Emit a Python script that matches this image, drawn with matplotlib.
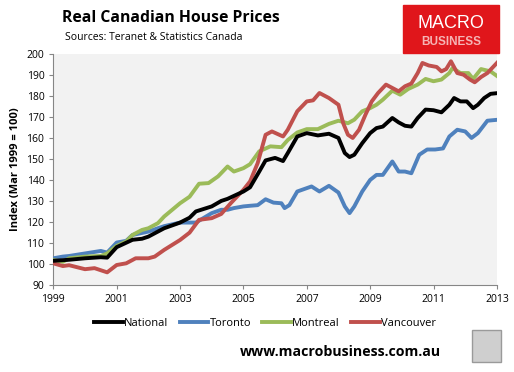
import matplotlib.pyplot as plt
from matplotlib.patches import Rectangle

# Значения (год, индекс)
national_t = [1999.0, 1999.5, 2000.0, 2000.5, 2000.7, 2001.0, 2001.5, 2001.8, 2002.0, 2002.5,
              2003.0, 2003.3, 2003.5, 2004.0, 2004.3, 2004.5, 2005.0, 2005.21, 2005.5, 2005.7,
              2006.0, 2006.25, 2006.4, 2006.7, 2007.0, 2007.35, 2007.7, 2008.0, 2008.2, 2008.35,
              2008.5, 2008.75, 2009.0, 2009.2, 2009.4, 2009.7, 2009.9, 2010.1, 2010.3, 2010.5,
              2010.75, 2011.0, 2011.25, 2011.5, 2011.65, 2011.85, 2012.05, 2012.25, 2012.4, 2012.6,
              2012.8, 2013.05]
national_v = [101.5, 102, 102.7, 103.2, 103, 108, 111.5, 112, 113, 117,
              119.7, 122, 125, 127.4, 130, 131, 134.5, 136.5, 144, 149.3,
              150.5, 149, 152.8, 160.7, 162.3, 161.2, 162, 160, 152.8, 150.9,
              152, 157.5, 162.3, 164.7, 165.4, 169.5, 167.4, 165.8, 165.4, 169.5,
              173.5, 173.2, 172.2, 175.8, 179, 177.4, 177.4, 174.2, 175.8, 179,
              181, 181.4]

toronto_t = [1999.0, 1999.3, 1999.5, 2000.0, 2000.5, 2000.7, 2001.0, 2001.3, 2001.5, 2002.0,
             2002.3, 2002.5, 2003.0, 2003.5, 2004.0, 2004.3, 2004.5, 2004.7, 2005.0, 2005.21,
             2005.45, 2005.7, 2005.95, 2006.2, 2006.3, 2006.45, 2006.7, 2007.0, 2007.15, 2007.4,
             2007.7, 2008.0, 2008.2, 2008.35, 2008.5, 2008.75, 2009.0, 2009.2, 2009.4, 2009.7,
             2009.9, 2010.1, 2010.3, 2010.55, 2010.8, 2011.05, 2011.3, 2011.5, 2011.75, 2012.0,
             2012.2, 2012.4, 2012.7, 2013.05]
toronto_v = [102.7, 103.5, 103.8, 105, 106.2, 105.4, 110.2, 111, 113.8, 115.4,
             117, 118, 119.7, 119.7, 124.2, 125.8, 125.8, 126.6, 127.4, 127.7,
             128, 130.8, 129.2, 128.9, 126.6, 128, 134.5, 136.1, 136.9, 134.5,
             137.2, 134, 127.4, 124.2, 127.4, 134.5, 140, 142.4, 142.4, 148.8,
             144, 144, 143.2, 152, 154.5, 154.5, 155, 160.7, 163.9, 163.1,
             160, 162.3, 168.2, 168.7]

montreal_t = [1999.0, 1999.3, 1999.5, 2000.0, 2000.5, 2000.7, 2001.0, 2001.3, 2001.5, 2001.8,
              2002.0, 2002.3, 2002.5, 2003.0, 2003.3, 2003.6, 2003.9, 2004.2, 2004.5, 2004.7,
              2005.0, 2005.21, 2005.5, 2005.85, 2006.2, 2006.4, 2006.7, 2007.0, 2007.35, 2007.7,
              2008.0, 2008.3, 2008.5, 2008.75, 2009.0, 2009.2, 2009.4, 2009.7, 2009.95, 2010.2,
              2010.5, 2010.75, 2011.0, 2011.25, 2011.5, 2011.6, 2011.85, 2012.1, 2012.25, 2012.5,
              2012.8, 2013.05]
montreal_v = [101.9, 101, 102.7, 103.5, 103.8, 105, 108.6, 110.7, 113.8, 116.2,
              117, 119.4, 122.6, 128.9, 132, 138.2, 138.5, 141.7, 146.4, 144,
              145.6, 147.5, 153.6, 156, 155.6, 159, 162.6, 164.2, 164.2, 166.7,
              168.2, 167, 168.7, 172.7, 174.2, 175.8, 178.2, 182.5, 180.6, 183.3,
              185.4, 188.1, 187, 187.8, 190.9, 193.3, 190.9, 190.9, 188.1, 192.8,
              191.7, 189]

vancouver_t = [1999.0, 1999.3, 1999.5, 2000.0, 2000.3, 2000.7, 2001.0, 2001.3, 2001.6, 2002.0,
               2002.2, 2002.5, 2003.0, 2003.3, 2003.6, 2004.0, 2004.3, 2004.6, 2005.0, 2005.21,
               2005.45, 2005.7, 2005.9, 2006.25, 2006.4, 2006.7, 2007.0, 2007.2, 2007.4, 2007.7,
               2008.0, 2008.15, 2008.3, 2008.45, 2008.65, 2008.85, 2009.05, 2009.25, 2009.5, 2009.7,
               2009.9, 2010.1, 2010.3, 2010.5, 2010.65, 2010.85, 2011.1, 2011.25, 2011.4, 2011.55,
               2011.75, 2011.95, 2012.15, 2012.3, 2012.5, 2012.7, 2013.05]
vancouver_v = [100.3, 99, 99.4, 97.5, 98, 96, 99.5, 100.3, 102.7, 102.7,
               103.5, 106.7, 111.4, 114.9, 121, 121.8, 123.8, 128.9, 135.3, 139.3,
               148, 161.5, 163.1, 160.7, 163.9, 172.7, 177.4, 177.9, 181.4, 179,
               175.8, 167, 161.5, 160, 163.9, 171, 177.4, 181.4, 185.4, 183.8,
               182.2, 184.6, 185.9, 190.9, 195.7, 194.5, 193.8, 191.7, 192.8, 196.5,
               190.9, 190.1, 187.8, 186.5, 189, 190.9, 196.5]

x_ticks = [1999, 2001, 2003, 2005, 2007, 2009, 2011, 2013]
y_ticks = list(range(90, 201, 10))

plt.rcParams['font.family'] = ['Open Sans', 'DejaVu Sans']

fig = plt.figure(figsize=(5.14, 3.72), dpi=100)
ax = fig.add_axes([0.1037, 0.234, 0.863, 0.621])
ax.set_facecolor('#f2f2f2')

lw = 2.8
ax.plot(national_t, national_v, color='black', lw=lw, label='National', zorder=5)
ax.plot(toronto_t, toronto_v, color='#4f81bd', lw=lw, label='Toronto', zorder=3)
ax.plot(montreal_t, montreal_v, color='#9bbb59', lw=lw, label='Montreal', zorder=3)
ax.plot(vancouver_t, vancouver_v, color='#c0504d', lw=lw, label='Vancouver', zorder=4)

ax.set_xlim(1999, 2013)
ax.set_ylim(90, 200)
ax.set_xticks(x_ticks)
ax.set_yticks(y_ticks)
ax.tick_params(labelsize=7.5, colors='#868686', labelcolor='black', length=3, width=0.8)
for s in ['top', 'right']:
    ax.spines[s].set_visible(False)
for s in ['left', 'bottom']:
    ax.spines[s].set_color('#868686')
ax.set_ylabel('Index (Mar 1999 = 100)', fontsize=8, fontweight='bold', labelpad=4)

fig.legend(loc='center', bbox_to_anchor=(265 / 514, 1 - 323 / 372), ncol=4, frameon=False,
           fontsize=8, handlelength=2.6, handletextpad=0.1, columnspacing=1.0)

# заголовки
fig.text(62 / 514, 1 - 18 / 372, 'Real Canadian House Prices', fontsize=11.3,
         fontweight='bold', va='center')
fig.text(65 / 514, 1 - 38 / 372, 'Sources: Teranet & Statistics Canada', fontsize=7.5,
         va='center')

# логотип
fig.patches.append(Rectangle((403 / 514, 1 - 53 / 372), 96 / 514, 48 / 372,
                             transform=fig.transFigure, color='#e0161b', zorder=1))
fig.text(451 / 514, 1 - 23 / 372, 'MACRO', color='white', fontsize=13,
         ha='center', va='center', family='Liberation Sans')
fig.text(451 / 514, 1 - 42 / 372, 'BUSINESS', color='#f5b5b5', fontsize=8.5,
         ha='center', va='center', fontweight='bold', family='Liberation Sans')

fig.text(340 / 514, 1 - 352 / 372, 'www.macrobusiness.com.au', fontsize=10.2,
         fontweight='bold', ha='center', va='center')

fig.patches.append(Rectangle((472 / 514, 1 - 362 / 372), 29 / 514, 32 / 372,
                             transform=fig.transFigure, facecolor='#cfcfcf',
                             edgecolor='#9a9a9a', lw=1))

fig.savefig('out.png', dpi=100)
